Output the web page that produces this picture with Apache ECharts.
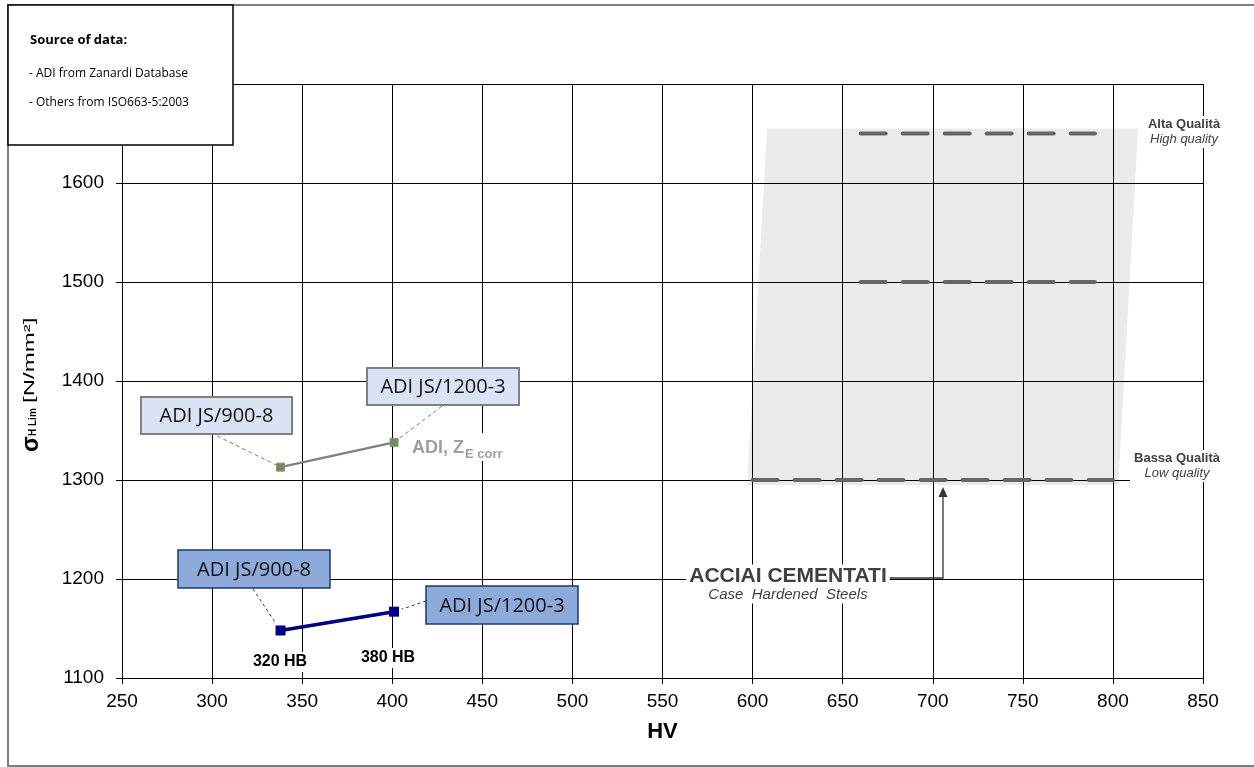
<!DOCTYPE html>
<html>
<head>
<meta charset="utf-8">
<script src="https://cdn.jsdelivr.net/npm/echarts@6/dist/echarts.min.js"></script>
<style>
  html, body { margin: 0; background: #fff; }
  #chart { width: 1254px; height: 767px; }
</style>
</head>
<body>
<div id="chart"></div>
<script>
// valori
const adiHV = [338, 401];
const adiZcorr = [1313, 1338];
const adiStd = [1148, 1167];
const hbLabels = ["320 HB", "380 HB"];
const gradeLabels = ["ADI JS/900-8", "ADI JS/1200-3"];

// acciai cementati: fascia e livelli di qualità
const bandHV = [608, 814, 803, 597];
const bandSigma = [1655, 1655, 1295, 1295];
const highHV = [660, 790];
const highSigma = [1650, 1650];
const midHV = [660, 790];
const midSigma = [1500, 1500];
const lowHV = [600, 800];
const lowSigma = [1300, 1300];

const pairs = (xs, ys) => xs.map((x, i) => [x, ys[i]]);
const ARIAL = "'Liberation Sans', Arial, sans-serif";
const OPEN = "'Open Sans', 'Noto Sans', sans-serif";

const chart = echarts.init(document.getElementById("chart"), null, { renderer: "canvas" });

const dashStyle = { color: "#666", width: 4, type: [25, 17], cap: "round" };

chart.setOption({
  animation: false,
  backgroundColor: "#fff",
  grid: { left: 122, right: 51, top: 84, bottom: 89 },
  xAxis: {
    type: "value",
    min: 250,
    max: 850,
    interval: 50,
    name: "HV",
    nameLocation: "middle",
    nameGap: 43,
    nameTextStyle: { fontFamily: ARIAL, fontSize: 22, fontWeight: "bold", color: "#000" },
    axisLine: { show: true, lineStyle: { color: "#000", width: 1 } },
    axisTick: { show: true, length: 6, lineStyle: { color: "#000" } },
    axisLabel: { fontFamily: ARIAL, fontSize: 19, color: "#000", margin: 14, formatter: (v) => String(v) },
    splitLine: { show: true, lineStyle: { color: "#000", width: 1 } },
  },
  yAxis: {
    type: "value",
    min: 1100,
    max: 1700,
    interval: 100,
    axisLine: { show: true, lineStyle: { color: "#000", width: 1 } },
    axisTick: { show: true, length: 6, lineStyle: { color: "#000" } },
    axisLabel: { fontFamily: ARIAL, fontSize: 19, color: "#000", margin: 18, formatter: (v) => String(v) },
    splitLine: { show: true, lineStyle: { color: "#000", width: 1 } },
  },
  series: [
    {
      type: "custom",
      silent: true,
      z: 1,
      data: [[bandHV[0], bandSigma[0]]],
      renderItem: (params, api) => ({
        type: "polygon",
        shape: { points: pairs(bandHV, bandSigma).map((p) => api.coord(p)) },
        style: { fill: "rgba(0,0,0,0.08)" },
      }),
    },
    { type: "line", data: pairs(highHV, highSigma), symbol: "none", lineStyle: dashStyle, z: 3, silent: true },
    { type: "line", data: pairs(midHV, midSigma), symbol: "none", lineStyle: dashStyle, z: 3, silent: true },
    { type: "line", data: pairs(lowHV, lowSigma), symbol: "none", lineStyle: dashStyle, z: 3, silent: true },
    {
      type: "line",
      data: pairs(adiHV, adiZcorr),
      symbol: "rect",
      symbolSize: 8,
      lineStyle: { color: "#808080", width: 2.5 },
      itemStyle: { color: "#7f7f7f", borderColor: "#70ad47", borderWidth: 1 },
      z: 5,
    },
    {
      type: "line",
      data: pairs(adiHV, adiStd),
      symbol: "rect",
      symbolSize: 10,
      lineStyle: { color: "#000080", width: 3.5 },
      itemStyle: { color: "#000080" },
      z: 5,
    },
  ],
});

const px = (x, y) => chart.convertToPixel("grid", [x, y]);
// accorcia il tratto di richiamo prima del marcatore
const toward = (a, p, d) => {
  const dx = p[0] - a[0], dy = p[1] - a[1], L = Math.hypot(dx, dy);
  return [p[0] - (dx / L) * d, p[1] - (dy / L) * d];
};

const g = [];

// cornice esterna
g.push({ type: "rect", z: 90, silent: true, shape: { x: 8, y: 5, width: 1262, height: 761 },
  style: { fill: "none", stroke: "#7f7f7f", lineWidth: 2 } });

// riquadro fonte dati
g.push({ type: "rect", z: 100, shape: { x: 8, y: 5, width: 225, height: 140 },
  style: { fill: "#fff", stroke: "#000", lineWidth: 1.5 } });
g.push({ type: "text", z: 101, x: 30, y: 40,
  style: { text: "Source of data:", font: "bold 13px " + OPEN, fill: "#000", verticalAlign: "middle" } });
g.push({ type: "text", z: 101, x: 29, y: 74,
  style: { text: "- ADI from Zanardi Database", font: "12px " + OPEN, fill: "#000", verticalAlign: "middle" } });
g.push({ type: "text", z: 101, x: 29, y: 103,
  style: { text: "- Others from ISO663-5:2003", font: "12px " + OPEN, fill: "#000", verticalAlign: "middle" } });

// titolo asse y (ruotato)
g.push({
  type: "group", x: 37, y: 452, rotation: Math.PI / 2, z: 100,
  children: [
    { type: "text", x: 0, y: -5, style: { text: "σ", font: "bold 23px " + ARIAL, fill: "#000", verticalAlign: "middle" } },
    { type: "text", x: 16, y: -4, style: { text: "H Lim", font: "bold 10px " + ARIAL, fill: "#000", verticalAlign: "middle" } },
    { type: "text", x: 49, y: -7, scaleX: 1.6, style: { text: "[N/mm²]", font: "15px " + ARIAL, fill: "#000", verticalAlign: "middle" } },
  ],
});

// etichette ADI
const grayBoxes = [
  { x: 141, y: 397, w: 151, h: 37, anchor: [217, 436] },
  { x: 367, y: 368, w: 152, h: 37, anchor: [442, 406] },
];
const blueBoxes = [
  { x: 178, y: 550, w: 152, h: 38, anchor: [253, 589] },
  { x: 426, y: 586, w: 152, h: 38, anchor: [426, 601] },
];

grayBoxes.forEach((b, i) => {
  const p = px(adiHV[i], adiZcorr[i]);
  const e = toward(b.anchor, p, 5);
  g.push({ type: "line", z: 40, silent: true, shape: { x1: b.anchor[0], y1: b.anchor[1], x2: e[0], y2: e[1] },
    style: { stroke: "#808080", lineWidth: 1, lineDash: [4, 3] } });
  g.push({ type: "rect", z: 50, shape: { x: b.x, y: b.y, width: b.w, height: b.h },
    style: { fill: "#dae3f3", stroke: "#808080", lineWidth: 2 } });
  g.push({ type: "text", z: 51, x: b.x + b.w / 2, y: b.y + b.h / 2 + 1,
    style: { text: gradeLabels[i], font: "20px " + OPEN, fill: "#111", align: "center", verticalAlign: "middle" } });
});

blueBoxes.forEach((b, i) => {
  const p = px(adiHV[i], adiStd[i]);
  const e = toward(b.anchor, p, 8);
  g.push({ type: "line", z: 40, silent: true, shape: { x1: b.anchor[0], y1: b.anchor[1], x2: e[0], y2: e[1] },
    style: { stroke: "#1f3864", lineWidth: 1, lineDash: [3, 3] } });
  g.push({ type: "rect", z: 50, shape: { x: b.x, y: b.y, width: b.w, height: b.h },
    style: { fill: "#8eaadb", stroke: "#1f3864", lineWidth: 1.5 } });
  g.push({ type: "text", z: 51, x: b.x + b.w / 2, y: b.y + b.h / 2 + 1,
    style: { text: gradeLabels[i], font: "20px " + OPEN, fill: "#111", align: "center", verticalAlign: "middle" } });
});

// durezze Brinell sotto i punti
const hbPos = [[280, 662], [388, 658]];
hbLabels.forEach((t, i) => {
  g.push({ type: "text", z: 45, x: hbPos[i][0], y: hbPos[i][1],
    style: { text: t, font: "bold 16px " + ARIAL, fill: "#000", align: "center", verticalAlign: "middle",
      backgroundColor: "#fff", padding: [2, 2] } });
});

// ADI, Z_E corr
g.push({ type: "rect", z: 44, silent: true, shape: { x: 409, y: 433, width: 104, height: 28 }, style: { fill: "#fff" } });
g.push({ type: "text", z: 45, x: 412, y: 448,
  style: { text: "ADI, Z", font: "bold 18px " + ARIAL, fill: "#a0a0a0", verticalAlign: "middle" } });
g.push({ type: "text", z: 45, x: 465, y: 454,
  style: { text: "E corr", font: "bold 13px " + ARIAL, fill: "#a0a0a0", verticalAlign: "middle" } });

// acciai cementati + freccia
g.push({ type: "polyline", z: 40, silent: true, shape: { points: [[886, 578], [943, 578], [943, 496]] },
  style: { stroke: "#333", lineWidth: 1.3, fill: "none" } });
g.push({ type: "polygon", z: 40, silent: true, shape: { points: [[943, 487], [938.5, 497], [947.5, 497]] },
  style: { fill: "#333" } });
g.push({ type: "text", z: 45, x: 788, y: 576,
  style: { text: "ACCIAI CEMENTATI", font: "bold 21px " + ARIAL, fill: "#404040", align: "center", verticalAlign: "middle",
    backgroundColor: "#fff", padding: [1, 3] } });
g.push({ type: "text", z: 45, x: 788, y: 595,
  style: { text: "Case  Hardened  Steels", font: "italic 15px " + ARIAL, fill: "#404040", align: "center", verticalAlign: "middle",
    backgroundColor: "#fff", padding: [1, 3] } });

// livelli di qualità
g.push({ type: "text", z: 45, x: 1184, y: 132,
  style: { text: "Alta Qualità\n{i|High quality}", font: "bold 13px " + ARIAL, fill: "#404040", align: "center", verticalAlign: "middle",
    lineHeight: 15, backgroundColor: "#fff", padding: [1, 2],
    rich: { i: { font: "italic 13px " + ARIAL, fill: "#404040", lineHeight: 15 } } } });
g.push({ type: "text", z: 45, x: 1177, y: 466,
  style: { text: "Bassa Qualità\n{i|Low quality}", font: "bold 13px " + ARIAL, fill: "#404040", align: "center", verticalAlign: "middle",
    lineHeight: 15, backgroundColor: "#fff", padding: [1, 4],
    rich: { i: { font: "italic 13px " + ARIAL, fill: "#404040", lineHeight: 15 } } } });

chart.setOption({ graphic: { elements: g } });

window.addEventListener("resize", () => chart.resize());
</script>
</body>
</html>
